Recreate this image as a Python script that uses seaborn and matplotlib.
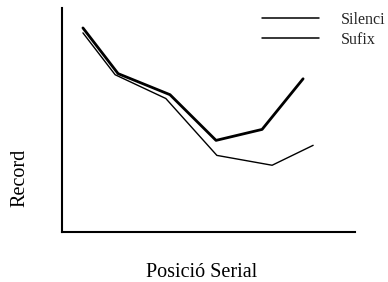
import matplotlib
matplotlib.use("Agg")
import matplotlib.pyplot as plt
import seaborn as sns
import pandas as pd

series_names = ["Silenci", "Sufix"]
silenci_x = [0.50, 1.34, 2.58, 3.68, 4.78, 5.76]
silenci_y = [91.1, 70.7, 61.3, 40.9, 45.8, 68.4]
sufix_x = [0.50, 1.27, 2.48, 3.70, 5.02, 6.00]
sufix_y = [88.9, 70.2, 59.6, 34.2, 29.8, 38.7]
x_label = "Posició Serial"
y_label = "Record"

df = pd.concat([
    pd.DataFrame({"x": silenci_x, "y": silenci_y, "serie": series_names[0]}),
    pd.DataFrame({"x": sufix_x, "y": sufix_y, "serie": series_names[1]}),
])

sns.set_style("white")
plt.rcParams["font.family"] = ["Liberation Serif", "DejaVu Serif"]

fig = plt.figure(figsize=(3.88, 2.82), dpi=100)
ax = fig.add_axes([62/388, 1-232/282, (355-62)/388, (232-8)/282])

sns.lineplot(data=df, x="x", y="y", hue="serie", size="serie",
             sizes={"Silenci": 2.0, "Sufix": 1.0},
             palette={"Silenci": "black", "Sufix": "black"},
             sort=False, estimator=None, ax=ax, legend=True)

ax.set_xlim(0, 7)
ax.set_ylim(0, 100)
ax.set_xticks([])
ax.set_yticks([])
for s in ["top", "right"]:
    ax.spines[s].set_visible(False)
for s in ["left", "bottom"]:
    ax.spines[s].set_color("black")
    ax.spines[s].set_linewidth(1.5)

ax.set_xlabel(x_label, fontsize=14.5, color="black")
ax.set_ylabel(y_label, fontsize=14.5, color="black")
ax.xaxis.set_label_coords(0.478, -0.14)
ax.yaxis.set_label_coords(-0.11, 0.24)

handles, labels = ax.get_legend_handles_labels()
for h in handles:
    h.set_linewidth(1.1)
leg = ax.legend(handles, labels, loc="upper left", bbox_to_anchor=(0.682, 0.982),
                frameon=False, fontsize=11.5, handlelength=3.55, handletextpad=1.38,
                labelspacing=0.25, borderaxespad=0, borderpad=0)

fig.savefig("out.png", dpi=100)
